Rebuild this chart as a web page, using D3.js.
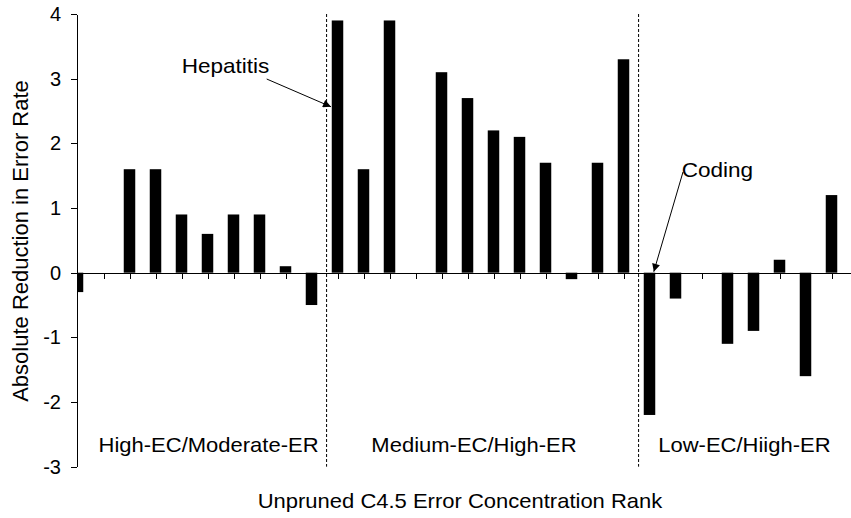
<!DOCTYPE html>
<html>
<head>
<meta charset="utf-8">
<script src="https://cdn.jsdelivr.net/npm/d3@7"></script>
<style>
  body { margin: 0; background: #fff; }
  text { font-family: "Liberation Sans", Arial, Helvetica, sans-serif; fill: #000; }
</style>
</head>
<body>
<svg id="chart" width="851" height="518"></svg>
<script>
// Datasets ordered by unpruned C4.5 error-concentration rank
const ranks = [1, 2, 3, 4, 5, 6, 7, 8, 9, 10,
               11, 12, 13, 14, 15, 16, 17, 18, 19, 20,
               21, 22, 23, 24, 25, 26, 27, 28, 29, 30];
// Absolute reduction in error rate (null = no bar)
const reduction = [-0.3, null, 1.6, 1.6, 0.9, 0.6, 0.9, 0.9, 0.1, -0.5,
                   3.9, 1.6, 3.9, null, 3.1, 2.7, 2.2, 2.1, 1.7, -0.1,
                   1.7, 3.3, -2.2, -0.4, null, -1.1, -0.9, 0.2, -1.6, 1.2];
const yTicks = [-3, -2, -1, 0, 1, 2, 3, 4];
const groupNames = ["High-EC/Moderate-ER", "Medium-EC/High-ER", "Low-EC/Hiigh-ER"];
const groupEndRank = [10, 22];              // dashed separators follow these ranks
const noteLabels = ["Hepatitis", "Coding"];
const noteRank = [11, 23];
const noteValue = [2.55, 0];

// ---- layout ----
const W = 851, H = 518;
const plot = { left: 77, right: 851, top: 14, bottom: 466.7 };
const svg = d3.select("#chart");

const x = d3.scalePoint().domain(ranks).range([77.5, 831.5]);
const step = x.step();
const y = d3.scaleLinear().domain([-3, 4]).range([plot.bottom, plot.top]);
const barW = 11.5;
const stretch = 1.1;   // horizontal text widening

const defs = svg.append("defs");
defs.append("clipPath").attr("id", "plotClip")
  .append("rect")
  .attr("x", plot.left).attr("y", 0)
  .attr("width", plot.right - plot.left).attr("height", H);

defs.append("marker")
  .attr("id", "arrow")
  .attr("markerUnits", "userSpaceOnUse")
  .attr("viewBox", "0 0 10 10")
  .attr("refX", 10).attr("refY", 5)
  .attr("markerWidth", 10).attr("markerHeight", 8)
  .attr("orient", "auto")
  .append("path").attr("d", "M0,0 L10,5 L0,10 Z").attr("fill", "#000");

// x-axis ticks hanging below the zero line
const xAxis = d3.axisBottom(x).tickSize(6).tickSizeOuter(0).tickFormat("");
const gx = svg.append("g")
  .attr("transform", `translate(0,${y(0)})`)
  .call(xAxis);
gx.select(".domain").remove();
gx.selectAll(".tick line").attr("stroke", "#000").attr("shape-rendering", "crispEdges");

// bars
svg.append("g").attr("clip-path", "url(#plotClip)")
  .selectAll("rect")
  .data(ranks.map((r, i) => ({ r, v: reduction[i] })).filter(d => d.v !== null))
  .join("rect")
  .attr("x", d => x(d.r) - barW / 2)
  .attr("y", d => Math.min(y(d.v), y(0)))
  .attr("width", barW)
  .attr("height", d => Math.abs(y(d.v) - y(0)))
  .attr("fill", "#000");

// zero line across the plot
svg.append("line")
  .attr("x1", plot.left).attr("x2", plot.right)
  .attr("y1", Math.round(y(0)) + 0.5).attr("y2", Math.round(y(0)) + 0.5)
  .attr("stroke", "#000").attr("shape-rendering", "crispEdges");

// y axis
const yAxis = d3.axisLeft(y).tickValues(yTicks).tickSize(6).tickSizeOuter(0).tickPadding(10)
  .tickFormat(d => String(d));
const gy = svg.append("g")
  .attr("transform", `translate(${plot.left},0)`)
  .call(yAxis);
gy.select(".domain").attr("stroke", "#000").attr("shape-rendering", "crispEdges");
gy.selectAll(".tick line").attr("stroke", "#000").attr("shape-rendering", "crispEdges");
gy.selectAll(".tick text")
  .attr("font-size", 20)
  .attr("font-family", "'Liberation Sans', Arial, sans-serif")
  .attr("fill", "#000");

// dashed separators between the groups
svg.append("g").selectAll("line")
  .data(groupEndRank)
  .join("line")
  .attr("x1", d => x(d) + step * 0.58).attr("x2", d => x(d) + step * 0.58)
  .attr("y1", plot.top).attr("y2", plot.bottom)
  .attr("stroke", "#000").attr("stroke-width", 1)
  .attr("stroke-dasharray", "3,2");

// group captions
const groupCentreRank = [6.04, 16.25, 26.65];
function xAt(rankPos) { return x(ranks[0]) + (rankPos - ranks[0]) * step; }
svg.append("g").selectAll("text")
  .data(groupNames)
  .join("text")
  .attr("transform", (d, i) => `translate(${xAt(groupCentreRank[i])},452.3) scale(${stretch},1)`)
  .attr("text-anchor", "middle")
  .attr("font-size", 20)
  .text(d => d);

// annotations with arrows
const noteText = [{ x: 181.7, y: 73.3, sx: 266.7, sy: 79 },
                  { x: 681.7, y: 176.7, sx: 683, sy: 172 }];
const tipDx = [-6.5, 4.3];
noteLabels.forEach((lab, i) => {
  const t = noteText[i];
  svg.append("line")
    .attr("x1", t.sx).attr("y1", t.sy)
    .attr("x2", x(noteRank[i]) + tipDx[i]).attr("y2", y(noteValue[i]) - 1)
    .attr("stroke", "#000").attr("stroke-width", 1)
    .attr("marker-end", "url(#arrow)");
  svg.append("text")
    .attr("transform", `translate(${t.x},${t.y}) scale(${stretch},1)`)
    .attr("font-size", 20.5)
    .text(lab);
});

// axis titles
svg.append("text")
  .attr("transform", `translate(460,508.3) scale(${stretch},1)`)
  .attr("text-anchor", "middle")
  .attr("font-size", 20)
  .text("Unpruned C4.5 Error Concentration Rank");

svg.append("text")
  .attr("transform", "translate(28,241) rotate(-90)")
  .attr("text-anchor", "middle")
  .attr("font-size", 22)
  .text("Absolute Reduction in Error Rate");
</script>
</body>
</html>
